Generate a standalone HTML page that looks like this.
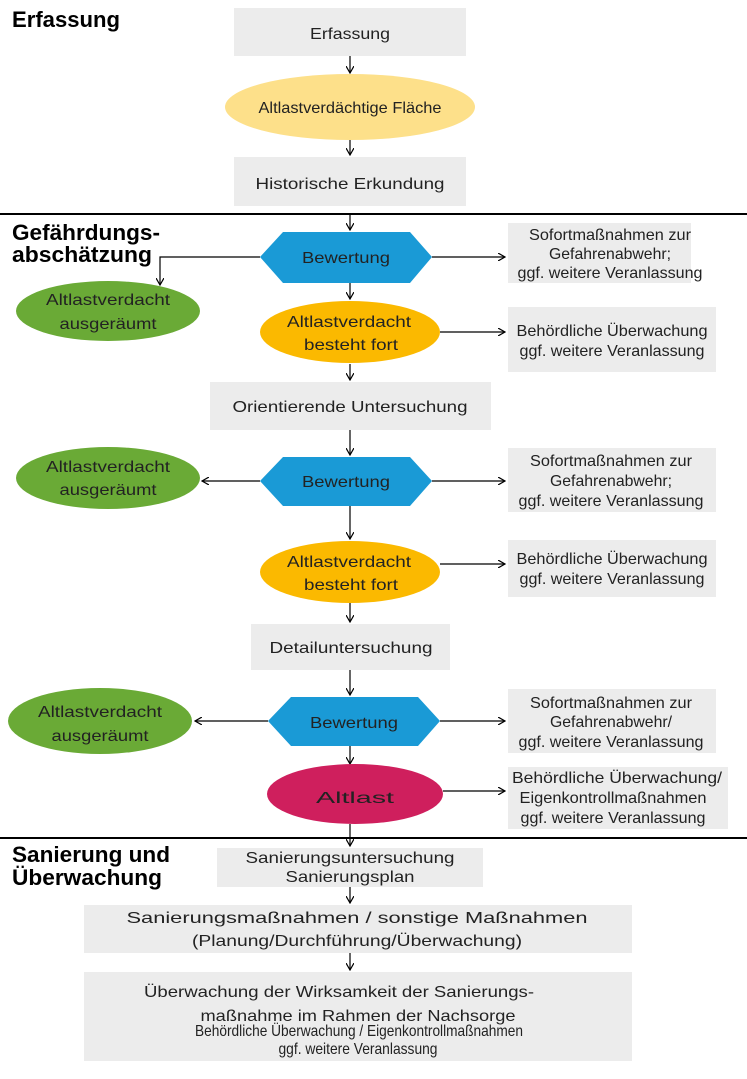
<!DOCTYPE html>
<html><head><meta charset="utf-8"><style>
html,body{margin:0;padding:0;background:#fff;}
svg{display:block;}
text{font-family:"Liberation Sans Narrow","Liberation Sans",sans-serif;fill:#222;}
.h{font-weight:bold;font-size:22px;fill:#000;}
.t{font-size:16px;text-anchor:middle;}
</style></head><body>
<svg width="747" height="1079" viewBox="0 0 747 1079" xmlns="http://www.w3.org/2000/svg">
<defs><marker id="a" markerWidth="8" markerHeight="8" refX="7" refY="4" orient="auto" markerUnits="userSpaceOnUse"><path d="M0,0 L7,4 L0,8" fill="none" stroke="#000" stroke-width="1.2"/></marker></defs>
<g stroke="#000" stroke-width="1.2" fill="none" marker-end="url(#a)">
<line x1="350" y1="56" x2="350" y2="73"/>
<line x1="350" y1="140" x2="350" y2="155"/>
<line x1="350" y1="214" x2="350" y2="230"/>
<polyline points="260,257 160,257 160,285"/>
<line x1="432" y1="257" x2="505" y2="257"/>
<line x1="350" y1="283" x2="350" y2="299"/>
<line x1="440" y1="332" x2="505" y2="332"/>
<line x1="350" y1="364" x2="350" y2="380"/>
<line x1="350" y1="430" x2="350" y2="455"/>
<line x1="260" y1="481" x2="202" y2="481"/>
<line x1="432" y1="481" x2="505" y2="481"/>
<line x1="350" y1="506" x2="350" y2="539"/>
<line x1="440" y1="564" x2="505" y2="564"/>
<line x1="350" y1="603" x2="350" y2="622"/>
<line x1="350" y1="670" x2="350" y2="695"/>
<line x1="268" y1="721" x2="195" y2="721"/>
<line x1="440" y1="721" x2="505" y2="721"/>
<line x1="350" y1="746" x2="350" y2="764"/>
<line x1="443" y1="791" x2="505" y2="791"/>
<line x1="350" y1="824" x2="350" y2="846"/>
<line x1="350" y1="887" x2="350" y2="903"/>
<line x1="350" y1="953" x2="350" y2="970"/>
</g>
<line x1="0" y1="214" x2="747" y2="214" stroke="#000" stroke-width="2"/>
<line x1="0" y1="838" x2="747" y2="838" stroke="#000" stroke-width="2"/>

<g fill="#ececec">
<rect x="234" y="8" width="232" height="48"/>
<rect x="234" y="157" width="232" height="49"/>
<rect x="508" y="223" width="183" height="60"/>
<rect x="508" y="307" width="208" height="65"/>
<rect x="210" y="382" width="281" height="48"/>
<rect x="508" y="448" width="208" height="64"/>
<rect x="508" y="540" width="208" height="57"/>
<rect x="251" y="624" width="199" height="46"/>
<rect x="508" y="689" width="208" height="64"/>
<rect x="508" y="767" width="220" height="62"/>
<rect x="217" y="848" width="266" height="39"/>
<rect x="84" y="905" width="548" height="48"/>
<rect x="84" y="972" width="548" height="89"/>
</g>
<ellipse cx="350" cy="107" rx="125" ry="33" fill="#fde08a"/>
<g fill="#1a9ad6">
<polygon points="260,257 283,232 410,232 432,257 410,283 283,283"/>
<polygon points="260,481 283,457 410,457 432,481 410,506 283,506"/>
<polygon points="268,721 291,697 418,697 440,721 418,746 291,746"/>
</g>
<g fill="#6aaa36">
<ellipse cx="108" cy="311" rx="92" ry="30"/>
<ellipse cx="108" cy="478" rx="92" ry="31"/>
<ellipse cx="100" cy="721" rx="92" ry="33"/>
</g>
<g fill="#fbb900">
<ellipse cx="350" cy="332" rx="90" ry="31"/>
<ellipse cx="350" cy="572" rx="90" ry="31"/>
</g>
<ellipse cx="355" cy="794" rx="88" ry="30" fill="#cf1f5d"/>

<text class="h" x="12" y="27" textLength="108" lengthAdjust="spacingAndGlyphs">Erfassung</text>
<text class="h" x="12" y="240" textLength="148" lengthAdjust="spacingAndGlyphs">Gefährdungs-</text>
<text class="h" x="12" y="262" textLength="140" lengthAdjust="spacingAndGlyphs">abschätzung</text>
<text class="h" x="12" y="862" textLength="158" lengthAdjust="spacingAndGlyphs">Sanierung und</text>
<text class="h" x="12" y="885" textLength="150" lengthAdjust="spacingAndGlyphs">Überwachung</text>

<g class="t" font-size="16" text-anchor="middle">
<text class="t" x="350" y="39" textLength="80" lengthAdjust="spacingAndGlyphs">Erfassung</text>
<text class="t" x="350" y="113" textLength="183" lengthAdjust="spacingAndGlyphs">Altlastverdächtige Fläche</text>
<text class="t" x="350" y="189" textLength="189" lengthAdjust="spacingAndGlyphs">Historische Erkundung</text>
<text class="t" x="346" y="263" textLength="88" lengthAdjust="spacingAndGlyphs">Bewertung</text>
<text class="t" x="610" y="240" font-size="15" textLength="162" lengthAdjust="spacingAndGlyphs">Sofortmaßnahmen zur</text>
<text class="t" x="610" y="259" font-size="15" textLength="122" lengthAdjust="spacingAndGlyphs">Gefahrenabwehr;</text>
<text class="t" x="610" y="278" font-size="15" textLength="185" lengthAdjust="spacingAndGlyphs">ggf. weitere Veranlassung</text>
<text class="t" x="108" y="305" textLength="124" lengthAdjust="spacingAndGlyphs">Altlastverdacht</text>
<text class="t" x="108" y="329" textLength="97" lengthAdjust="spacingAndGlyphs">ausgeräumt</text>
<text class="t" x="349" y="327" textLength="124" lengthAdjust="spacingAndGlyphs">Altlastverdacht</text>
<text class="t" x="351" y="350" textLength="94" lengthAdjust="spacingAndGlyphs">besteht fort</text>
<text class="t" x="612" y="336" font-size="15" textLength="191" lengthAdjust="spacingAndGlyphs">Behördliche Überwachung</text>
<text class="t" x="612" y="356" font-size="15" textLength="185" lengthAdjust="spacingAndGlyphs">ggf. weitere Veranlassung</text>
<text class="t" x="350" y="412" textLength="235" lengthAdjust="spacingAndGlyphs">Orientierende Untersuchung</text>
<text class="t" x="346" y="487" textLength="88" lengthAdjust="spacingAndGlyphs">Bewertung</text>
<text class="t" x="108" y="472" textLength="124" lengthAdjust="spacingAndGlyphs">Altlastverdacht</text>
<text class="t" x="108" y="495" textLength="97" lengthAdjust="spacingAndGlyphs">ausgeräumt</text>
<text class="t" x="611" y="466" font-size="15" textLength="162" lengthAdjust="spacingAndGlyphs">Sofortmaßnahmen zur</text>
<text class="t" x="611" y="486" font-size="15" textLength="122" lengthAdjust="spacingAndGlyphs">Gefahrenabwehr;</text>
<text class="t" x="611" y="506" font-size="15" textLength="185" lengthAdjust="spacingAndGlyphs">ggf. weitere Veranlassung</text>
<text class="t" x="349" y="567" textLength="124" lengthAdjust="spacingAndGlyphs">Altlastverdacht</text>
<text class="t" x="351" y="590" textLength="94" lengthAdjust="spacingAndGlyphs">besteht fort</text>
<text class="t" x="612" y="564" font-size="15" textLength="191" lengthAdjust="spacingAndGlyphs">Behördliche Überwachung</text>
<text class="t" x="612" y="584" font-size="15" textLength="185" lengthAdjust="spacingAndGlyphs">ggf. weitere Veranlassung</text>
<text class="t" x="351" y="653" textLength="163" lengthAdjust="spacingAndGlyphs">Detailuntersuchung</text>
<text class="t" x="354" y="728" textLength="88" lengthAdjust="spacingAndGlyphs">Bewertung</text>
<text class="t" x="100" y="717" textLength="124" lengthAdjust="spacingAndGlyphs">Altlastverdacht</text>
<text class="t" x="100" y="741" textLength="97" lengthAdjust="spacingAndGlyphs">ausgeräumt</text>
<text class="t" x="611" y="708" font-size="15" textLength="162" lengthAdjust="spacingAndGlyphs">Sofortmaßnahmen zur</text>
<text class="t" x="611" y="727" font-size="15" textLength="122" lengthAdjust="spacingAndGlyphs">Gefahrenabwehr/</text>
<text class="t" x="611" y="747" font-size="15" textLength="185" lengthAdjust="spacingAndGlyphs">ggf. weitere Veranlassung</text>
<text class="t" x="355" y="803" font-size="26" textLength="78" lengthAdjust="spacingAndGlyphs">Altlast</text>
<text class="t" x="617" y="783" font-size="15" textLength="210" lengthAdjust="spacingAndGlyphs">Behördliche Überwachung/</text>
<text class="t" x="613" y="803" font-size="15" textLength="187" lengthAdjust="spacingAndGlyphs">Eigenkontrollmaßnahmen</text>
<text class="t" x="613" y="823" font-size="15" textLength="185" lengthAdjust="spacingAndGlyphs">ggf. weitere Veranlassung</text>
<text class="t" x="350" y="863" textLength="209" lengthAdjust="spacingAndGlyphs">Sanierungsuntersuchung</text>
<text class="t" x="350" y="882" textLength="129" lengthAdjust="spacingAndGlyphs">Sanierungsplan</text>
<text class="t" x="357" y="923" font-size="20" textLength="461" lengthAdjust="spacingAndGlyphs">Sanierungsmaßnahmen  /  sonstige Maßnahmen</text>
<text class="t" x="357" y="946" textLength="330" lengthAdjust="spacingAndGlyphs">(Planung/Durchführung/Überwachung)</text>
<text class="t" x="339" y="997" font-size="18" textLength="390" lengthAdjust="spacingAndGlyphs">Überwachung der Wirksamkeit der Sanierungs-</text>
<text class="t" x="358" y="1021" font-size="18" textLength="315" lengthAdjust="spacingAndGlyphs">maßnahme im Rahmen der Nachsorge</text>
<text class="t" x="359" y="1036" font-size="12" textLength="328" lengthAdjust="spacingAndGlyphs">Behördliche Überwachung / Eigenkontrollmaßnahmen</text>
<text class="t" x="358" y="1054" font-size="12" textLength="159" lengthAdjust="spacingAndGlyphs">ggf. weitere Veranlassung</text>
</g>
</svg>
</body></html>
